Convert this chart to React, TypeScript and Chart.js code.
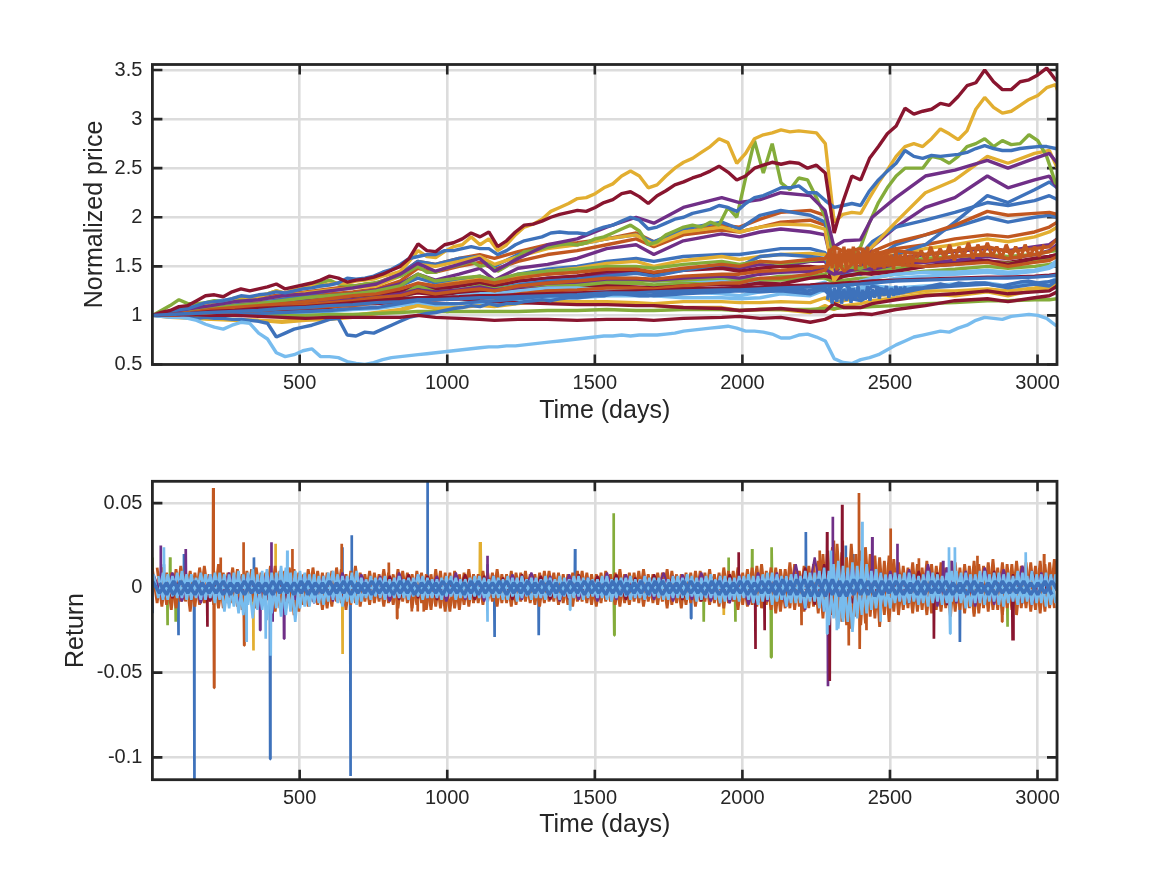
import { useRef, useEffect } from 'react';
import { Chart, registerables } from 'chart.js';
import React from 'react';

Chart.register(...registerables);

const BLUE = '#3e72bb';
const ORANGE = '#c15720';
const YELLOW = '#e2ae30';
const PURPLE = '#702f87';
const GREEN = '#84ac3a';
const LIGHT = '#78bcee';
const RED = '#89152f';
const INK = '#262626';
const GRID = '#dcdcdc';

const FONT = '"Liberation Sans", Helvetica, Arial, sans-serif';

const dayTicks = [500, 1000, 1500, 2000, 2500, 3000];
const priceTicks = [0.5, 1, 1.5, 2, 2.5, 3, 3.5];
const returnTicks = [-0.1, -0.05, 0, 0.05];

const priceDays = [1, 60, 130, 200, 280, 360, 440, 520, 600, 680, 760, 840, 900, 960, 1040, 1110, 1160, 1240, 1340, 1440, 1540, 1640, 1700, 1800, 1930, 1990, 2060, 2130, 2230, 2280, 2310, 2345, 2400, 2440, 2520, 2620, 2720, 2830, 2900, 2990, 3040, 3067];

const orangeA = [1, 1.03, 1.07, 1.12, 1.15, 1.18, 1.21, 1.24, 1.27, 1.3, 1.33, 1.42, 1.55, 1.52, 1.58, 1.62, 1.58, 1.65, 1.72, 1.74, 1.78, 1.84, 1.75, 1.85, 1.92, 1.9, 1.98, 2.05, 2.07, 2.02, 1.6, 1.62, 1.62, 1.65, 1.75, 1.82, 1.92, 2.06, 2.02, 2.04, 2.05, 2.03];
const purpleTop = [1, 1.03, 1.07, 1.1, 1.14, 1.16, 1.2, 1.22, 1.25, 1.28, 1.32, 1.42, 1.53, 1.45, 1.52, 1.58, 1.45, 1.58, 1.72, 1.78, 1.9, 2.0, 1.94, 2.1, 2.2, 2.15, 2.18, 2.25, 2.22, 2.07, 1.7, 1.76, 1.77, 2.0, 2.2, 2.42, 2.48, 2.58, 2.5, 2.6, 2.65, 2.55];
const blueB = [1, 1.02, 1.05, 1.09, 1.13, 1.16, 1.18, 1.21, 1.25, 1.28, 1.32, 1.42, 1.55, 1.52, 1.58, 1.6, 1.5, 1.62, 1.7, 1.72, 1.78, 1.82, 1.75, 1.88, 1.95, 1.88, 2.02, 2.07, 2.02, 1.95, 1.55, 1.58, 1.62, 1.75, 1.9, 1.97, 2.05, 2.15, 2.12, 2.17, 2.22, 2.18];
const orangeB = [1, 1.02, 1.05, 1.08, 1.11, 1.13, 1.16, 1.19, 1.22, 1.24, 1.27, 1.35, 1.48, 1.44, 1.5, 1.54, 1.47, 1.55, 1.62, 1.66, 1.72, 1.78, 1.7, 1.82, 1.87, 1.85, 1.9, 1.95, 1.97, 1.92, 1.55, 1.6, 1.58, 1.62, 1.68, 1.72, 1.78, 1.82, 1.8, 1.85, 1.9, 1.95];
const yellowB = [1, 1.02, 1.06, 1.1, 1.14, 1.16, 1.2, 1.23, 1.26, 1.28, 1.3, 1.4, 1.52, 1.5, 1.55, 1.6, 1.52, 1.6, 1.68, 1.72, 1.78, 1.82, 1.72, 1.85, 1.9, 1.85, 1.9, 1.93, 1.92, 1.88, 1.35, 1.5, 1.6, 1.7, 1.95, 2.25, 2.38, 2.62, 2.55, 2.65, 2.68, 2.5];
const purpleB = [1, 1.02, 1.04, 1.07, 1.1, 1.12, 1.14, 1.17, 1.2, 1.22, 1.26, 1.32, 1.42, 1.36, 1.42, 1.48, 1.36, 1.48, 1.52, 1.58, 1.68, 1.72, 1.62, 1.76, 1.83, 1.8, 1.85, 1.88, 1.85, 1.82, 1.45, 1.48, 1.5, 1.7, 1.9, 2.1, 2.2, 2.42, 2.3, 2.38, 2.42, 2.3];
const greenB = [1, 1.03, 1.05, 1.07, 1.1, 1.12, 1.15, 1.18, 1.2, 1.22, 1.25, 1.3, 1.42, 1.35, 1.38, 1.4, 1.36, 1.42, 1.45, 1.47, 1.5, 1.5, 1.48, 1.52, 1.55, 1.52, 1.55, 1.53, 1.56, 1.58, 1.5, 1.5, 1.48, 1.52, 1.55, 1.58, 1.6, 1.62, 1.6, 1.62, 1.65, 1.66];
const lightB = [1, 1.04, 1.09, 1.14, 1.17, 1.17, 1.12, 1.15, 1.18, 1.12, 1.12, 1.18, 1.25, 1.22, 1.27, 1.3, 1.28, 1.33, 1.36, 1.37, 1.38, 1.38, 1.35, 1.36, 1.35, 1.32, 1.33, 1.3, 1.3, 1.34, 1.22, 1.25, 1.28, 1.32, 1.38, 1.4, 1.42, 1.44, 1.42, 1.45, 1.48, 1.52];
const redB = [1, 1.01, 1.03, 1.05, 1.07, 1.09, 1.11, 1.13, 1.16, 1.18, 1.2, 1.24, 1.28, 1.26, 1.3, 1.33, 1.3, 1.35, 1.38, 1.4, 1.45, 1.46, 1.43, 1.46, 1.48, 1.45, 1.48, 1.5, 1.5, 1.48, 1.36, 1.4, 1.42, 1.44, 1.46, 1.5, 1.52, 1.55, 1.54, 1.58, 1.6, 1.62];
const blueC = [1, 1.01, 1.03, 1.05, 1.08, 1.1, 1.13, 1.15, 1.18, 1.2, 1.24, 1.3, 1.38, 1.33, 1.36, 1.4, 1.34, 1.42, 1.47, 1.5, 1.55, 1.58, 1.55, 1.6, 1.62, 1.62, 1.65, 1.68, 1.68, 1.64, 1.42, 1.46, 1.48, 1.55, 1.72, 1.82, 1.9, 2.0, 1.95, 2.0, 2.02, 2.0];
const orangeC = [1, 1.01, 1.03, 1.06, 1.08, 1.1, 1.12, 1.14, 1.17, 1.2, 1.22, 1.27, 1.33, 1.3, 1.33, 1.36, 1.33, 1.38, 1.42, 1.44, 1.47, 1.47, 1.44, 1.48, 1.52, 1.5, 1.55, 1.54, 1.57, 1.58, 1.7, 1.65, 1.68, 1.6, 1.66, 1.62, 1.66, 1.7, 1.65, 1.68, 1.7, 1.78];
const orangeD = [1, 1, 1.02, 1.03, 1.05, 1.07, 1.09, 1.11, 1.13, 1.15, 1.18, 1.2, 1.25, 1.22, 1.25, 1.27, 1.25, 1.3, 1.33, 1.35, 1.38, 1.38, 1.37, 1.4, 1.42, 1.42, 1.45, 1.46, 1.48, 1.5, 1.55, 1.62, 1.55, 1.52, 1.58, 1.55, 1.6, 1.62, 1.58, 1.62, 1.65, 1.7];
const orangeE = [1, 1.01, 1.02, 1.03, 1.04, 1.05, 1.07, 1.08, 1.09, 1.1, 1.13, 1.15, 1.18, 1.16, 1.18, 1.2, 1.18, 1.22, 1.25, 1.26, 1.28, 1.28, 1.27, 1.3, 1.33, 1.33, 1.38, 1.38, 1.42, 1.46, 1.6, 1.45, 1.6, 1.5, 1.52, 1.5, 1.52, 1.54, 1.5, 1.54, 1.56, 1.6];
const yellowC = [1, 1.01, 1.03, 1.05, 1.07, 1.09, 1.12, 1.14, 1.16, 1.19, 1.22, 1.26, 1.32, 1.3, 1.34, 1.37, 1.33, 1.4, 1.45, 1.48, 1.53, 1.55, 1.5, 1.56, 1.6, 1.57, 1.6, 1.62, 1.63, 1.62, 1.52, 1.55, 1.56, 1.58, 1.62, 1.68, 1.72, 1.78, 1.75, 1.8, 1.85, 1.9];
const yellowD = [1, 0.98, 0.97, 0.96, 0.96, 0.95, 0.94, 0.96, 0.98, 1, 1.03, 1.06, 1.12, 1.1, 1.12, 1.13, 1.12, 1.13, 1.14, 1.14, 1.14, 1.13, 1.12, 1.14, 1.14, 1.13, 1.13, 1.14, 1.13, 1.18, 1.13, 1.15, 1.18, 1.2, 1.22, 1.25, 1.25, 1.27, 1.25, 1.28, 1.3, 1.34];
const purpleC = [1, 1.01, 1.02, 1.04, 1.06, 1.08, 1.1, 1.12, 1.14, 1.17, 1.19, 1.23, 1.3, 1.27, 1.3, 1.32, 1.28, 1.33, 1.38, 1.4, 1.42, 1.45, 1.4, 1.47, 1.5, 1.48, 1.52, 1.5, 1.55, 1.55, 1.42, 1.48, 1.5, 1.52, 1.58, 1.62, 1.65, 1.68, 1.66, 1.7, 1.72, 1.78];
const purpleD = [1, 1.01, 1.03, 1.05, 1.07, 1.09, 1.1, 1.12, 1.14, 1.16, 1.18, 1.22, 1.26, 1.24, 1.26, 1.29, 1.26, 1.29, 1.33, 1.34, 1.37, 1.37, 1.36, 1.38, 1.4, 1.38, 1.42, 1.44, 1.45, 1.47, 1.42, 1.44, 1.48, 1.47, 1.52, 1.54, 1.56, 1.6, 1.58, 1.62, 1.66, 1.72];
const blueD = [1, 1.01, 1.02, 1.03, 1.05, 1.07, 1.09, 1.1, 1.12, 1.14, 1.17, 1.2, 1.26, 1.22, 1.26, 1.28, 1.27, 1.31, 1.35, 1.37, 1.4, 1.43, 1.4, 1.46, 1.52, 1.5, 1.6, 1.62, 1.6, 1.58, 1.38, 1.42, 1.42, 1.5, 1.62, 1.72, 1.95, 2.22, 2.15, 2.28, 2.36, 2.3];
const blueE = [1, 1, 1.01, 1.02, 1.03, 1.02, 1.03, 1.04, 1.05, 1.07, 1.08, 1.12, 1.15, 1.12, 1.12, 1.14, 1.15, 1.17, 1.2, 1.2, 1.22, 1.22, 1.2, 1.22, 1.24, 1.25, 1.24, 1.25, 1.22, 1.28, 1.2, 1.32, 1.18, 1.3, 1.22, 1.28, 1.3, 1.32, 1.28, 1.32, 1.3, 1.36];
const greenC = [1, 1.01, 1.02, 1.04, 1.06, 1.08, 1.09, 1.11, 1.12, 1.14, 1.16, 1.18, 1.24, 1.21, 1.23, 1.25, 1.24, 1.26, 1.28, 1.3, 1.32, 1.33, 1.31, 1.33, 1.35, 1.35, 1.36, 1.36, 1.38, 1.38, 1.34, 1.36, 1.38, 1.38, 1.42, 1.45, 1.47, 1.5, 1.48, 1.5, 1.52, 1.54];
const greenD = [1, 1.02, 1.04, 1.04, 1.06, 1.08, 1.1, 1.12, 1.14, 1.16, 1.18, 1.2, 1.3, 1.24, 1.26, 1.3, 1.27, 1.3, 1.3, 1.33, 1.35, 1.36, 1.35, 1.36, 1.38, 1.38, 1.37, 1.4, 1.4, 1.42, 1.5, 1.48, 1.45, 1.47, 1.48, 1.5, 1.53, 1.55, 1.53, 1.56, 1.58, 1.6];
const redC = [1, 1.01, 1.03, 1.04, 1.05, 1.07, 1.09, 1.1, 1.12, 1.15, 1.16, 1.2, 1.23, 1.21, 1.23, 1.24, 1.22, 1.26, 1.28, 1.27, 1.3, 1.29, 1.28, 1.3, 1.32, 1.3, 1.33, 1.32, 1.38, 1.4, 1.38, 1.4, 1.43, 1.42, 1.45, 1.5, 1.55, 1.56, 1.52, 1.58, 1.6, 1.62];
const lightC = [1, 1, 1.02, 1.03, 1.04, 1.02, 1.02, 1.03, 1.04, 1.06, 1.07, 1.1, 1.13, 1.1, 1.12, 1.13, 1.13, 1.16, 1.18, 1.18, 1.2, 1.2, 1.2, 1.18, 1.18, 1.17, 1.18, 1.22, 1.2, 1.26, 1.2, 1.25, 1.26, 1.3, 1.28, 1.3, 1.32, 1.33, 1.3, 1.33, 1.34, 1.38];
const lightD = [1, 1.01, 1.02, 1.04, 1.06, 1.06, 1.05, 1.07, 1.08, 1.1, 1.12, 1.13, 1.18, 1.16, 1.2, 1.22, 1.22, 1.25, 1.28, 1.28, 1.26, 1.26, 1.25, 1.24, 1.22, 1.2, 1.24, 1.25, 1.24, 1.28, 1.24, 1.26, 1.35, 1.38, 1.42, 1.44, 1.44, 1.46, 1.44, 1.46, 1.5, 1.56];
const redD = [1, 1, 1.01, 1.03, 1.05, 1.03, 1.05, 1.06, 1.08, 1.12, 1.12, 1.14, 1.16, 1.16, 1.17, 1.15, 1.14, 1.13, 1.12, 1.11, 1.11, 1.1, 1.1, 1.08, 1.07, 1.05, 1.06, 1.07, 1.04, 1.04, 1.12, 1.08, 1.08, 1.12, 1.16, 1.2, 1.22, 1.25, 1.22, 1.24, 1.25, 1.3];
const yellowE = [1, 0.99, 0.99, 0.96, 0.95, 0.95, 0.93, 0.95, 0.96, 0.98, 1.02, 1.05, 1.1, 1.07, 1.08, 1.1, 1.09, 1.12, 1.15, 1.13, 1.12, 1.12, 1.1, 1.08, 1.08, 1.05, 1.06, 1.06, 1.03, 1.1, 1.06, 1.1, 1.12, 1.15, 1.18, 1.22, 1.2, 1.24, 1.2, 1.26, 1.27, 1.32];
const greenLow = [1, 1, 1, 1.01, 1.01, 1, 1, 1, 1.01, 1.01, 1.02, 1.03, 1.04, 1.04, 1.04, 1.04, 1.04, 1.04, 1.05, 1.05, 1.06, 1.05, 1.05, 1.06, 1.06, 1.05, 1.06, 1.06, 1.06, 1.07, 1.07, 1.08, 1.08, 1.09, 1.1, 1.12, 1.13, 1.15, 1.15, 1.16, 1.16, 1.17];
const redLow = [1, 1, 1.01, 1, 1, 0.99, 0.98, 0.97, 0.98, 0.98, 0.98, 0.98, 1, 0.98, 0.97, 0.96, 0.95, 0.96, 0.96, 0.95, 0.96, 0.96, 0.95, 0.97, 0.98, 0.99, 0.97, 0.98, 0.93, 0.96, 1, 1, 1.02, 1.01, 1.06, 1.1, 1.15, 1.17, 1.14, 1.18, 1.2, 1.24];
const redLine = [1, 1.01, 1.02, 1.04, 1.05, 1.07, 1.08, 1.09, 1.11, 1.13, 1.15, 1.17, 1.18, 1.18, 1.19, 1.2, 1.2, 1.21, 1.22, 1.23, 1.24, 1.25, 1.25, 1.27, 1.28, 1.28, 1.29, 1.3, 1.31, 1.32, 1.32, 1.33, 1.34, 1.35, 1.36, 1.37, 1.38, 1.39, 1.39, 1.4, 1.41, 1.42];
const blueLine = [1, 1.01, 1.02, 1.03, 1.04, 1.05, 1.07, 1.08, 1.1, 1.11, 1.13, 1.14, 1.16, 1.16, 1.17, 1.18, 1.18, 1.19, 1.2, 1.21, 1.23, 1.23, 1.24, 1.25, 1.26, 1.26, 1.27, 1.28, 1.29, 1.3, 1.3, 1.31, 1.32, 1.33, 1.35, 1.36, 1.37, 1.38, 1.38, 1.39, 1.4, 1.41];

// the series that stand alone are read every 30 days, starting at day 1
const redTop = [
  1, 1.03, 1.05, 1.09, 1.1, 1.15, 1.2, 1.21, 1.19, 1.24, 1.27, 1.25, 1.27, 1.29, 1.32, 1.27, 1.29, 1.31, 1.33, 1.36,
  1.4, 1.38, 1.34, 1.36, 1.37, 1.39, 1.42, 1.46, 1.5, 1.58, 1.73, 1.66, 1.65, 1.72, 1.74, 1.78, 1.84, 1.8, 1.85, 1.7,
  1.76, 1.85, 1.92, 1.93, 1.96, 2.0, 2.03, 2.05, 2.07, 2.06, 2.1, 2.15, 2.18, 2.24, 2.26, 2.21, 2.14, 2.22, 2.27, 2.33,
  2.36, 2.4, 2.43, 2.47, 2.52, 2.46, 2.38, 2.42, 2.5, 2.53, 2.56, 2.54, 2.56, 2.55, 2.5, 2.53, 2.45, 1.84, 2.16, 2.42,
  2.38, 2.6, 2.72, 2.85, 2.93, 3.11, 3.05, 3.08, 3.1, 3.16, 3.14, 3.23, 3.34, 3.37, 3.5, 3.38, 3.3, 3.3, 3.38, 3.4,
  3.45, 3.52, 3.4, 3.35,
];
const yellowTop = [
  1, 1.02, 1.04, 1.06, 1.07, 1.09, 1.12, 1.14, 1.13, 1.17, 1.19, 1.18, 1.19, 1.22, 1.25, 1.23, 1.26, 1.28, 1.3, 1.3,
  1.32, 1.33, 1.33, 1.35, 1.36, 1.37, 1.4, 1.42, 1.45, 1.55, 1.66, 1.6, 1.59, 1.65, 1.7, 1.72, 1.8, 1.72, 1.78, 1.66,
  1.72, 1.82, 1.9, 1.93, 1.98, 2.06, 2.1, 2.14, 2.19, 2.2, 2.24, 2.3, 2.34, 2.42, 2.47, 2.42, 2.3, 2.33, 2.42, 2.5,
  2.56, 2.6, 2.66, 2.72, 2.8, 2.76, 2.55, 2.65, 2.8, 2.84, 2.86, 2.89, 2.87, 2.88, 2.87, 2.86, 2.75, 1.95, 2.03, 2.05,
  2.04, 2.2, 2.35, 2.48, 2.62, 2.72, 2.75, 2.72, 2.8, 2.9, 2.85, 2.79, 2.88, 3.1, 3.22, 3.12, 3.06, 3.08, 3.14, 3.2,
  3.24, 3.32, 3.35, 3.1,
];
const greenTop = [
  1, 1.05, 1.1, 1.16, 1.12, 1.12, 1.13, 1.15, 1.14, 1.16, 1.18, 1.17, 1.2, 1.22, 1.25, 1.22, 1.26, 1.28, 1.3, 1.33,
  1.36, 1.32, 1.31, 1.3, 1.32, 1.33, 1.35, 1.38, 1.4, 1.45, 1.5, 1.44, 1.44, 1.48, 1.5, 1.52, 1.55, 1.5, 1.52, 1.45,
  1.5, 1.58, 1.65, 1.66, 1.68, 1.7, 1.72, 1.73, 1.72, 1.74, 1.78, 1.8, 1.84, 1.88, 1.92, 1.86, 1.72, 1.75, 1.82, 1.86,
  1.9, 1.92, 1.9, 1.95, 1.92, 2.1, 2.0, 2.4, 2.78, 2.45, 2.75, 2.35, 2.28, 2.4, 2.38, 2.2, 2.0, 1.6, 1.6, 1.62,
  1.7, 1.95, 2.15, 2.3, 2.42, 2.5, 2.5, 2.5, 2.62, 2.6, 2.55, 2.62, 2.72, 2.75, 2.8, 2.72, 2.78, 2.74, 2.75, 2.84,
  2.78, 2.62, 2.35, 2.3,
];
const blueTop = [
  1, 1.02, 1.04, 1.06, 1.07, 1.1, 1.13, 1.14, 1.15, 1.17, 1.2, 1.19, 1.21, 1.22, 1.24, 1.23, 1.25, 1.27, 1.28, 1.3,
  1.31, 1.33, 1.38, 1.37, 1.38, 1.4, 1.44, 1.47, 1.52, 1.58, 1.6, 1.62, 1.62, 1.66, 1.66, 1.68, 1.7, 1.68, 1.68, 1.62,
  1.66, 1.72, 1.76, 1.78, 1.8, 1.84, 1.85, 1.84, 1.84, 1.83, 1.87, 1.9, 1.92, 1.96, 2.0, 1.97, 1.88, 1.9, 1.94, 1.98,
  2.0, 2.04, 2.06, 2.08, 2.12, 2.1, 2.06, 2.14, 2.2, 2.22, 2.26, 2.3, 2.3, 2.32, 2.25, 2.25, 2.17, 2.1, 2.12, 2.14,
  2.12, 2.27, 2.38, 2.47, 2.55, 2.68, 2.62, 2.6, 2.63, 2.62, 2.63, 2.64, 2.66, 2.7, 2.73, 2.7, 2.68, 2.68, 2.7, 2.71,
  2.72, 2.72, 2.7, 2.68,
];
const lightLow = [
  1, 0.99, 0.98, 0.98, 0.97, 0.95, 0.91, 0.88, 0.86, 0.9, 0.93, 0.92, 0.82, 0.76, 0.62, 0.58, 0.6, 0.64, 0.66, 0.58,
  0.58, 0.57, 0.53, 0.51, 0.5, 0.52, 0.55, 0.57, 0.58, 0.59, 0.6, 0.61, 0.62, 0.63, 0.64, 0.65, 0.66, 0.67, 0.68, 0.68,
  0.69, 0.69, 0.7, 0.71, 0.72, 0.73, 0.74, 0.75, 0.76, 0.77, 0.78, 0.79, 0.79, 0.8, 0.79, 0.8, 0.8, 0.8, 0.81, 0.82,
  0.84, 0.85, 0.86, 0.87, 0.88, 0.89, 0.87, 0.84, 0.84, 0.83, 0.81, 0.77, 0.77, 0.8, 0.81, 0.78, 0.74, 0.56, 0.52, 0.51,
  0.55, 0.57, 0.6, 0.65, 0.7, 0.74, 0.78, 0.8, 0.82, 0.84, 0.83, 0.87, 0.9, 0.95, 0.98, 0.97, 0.96, 0.99, 1, 1.01,
  1, 0.97, 0.9, 0.87,
];
const blueLow = [
  1, 0.99, 1, 0.99, 0.98, 0.97, 0.98, 0.97, 0.97, 0.96, 0.96, 0.95, 0.94, 0.92, 0.78, 0.82, 0.86, 0.88, 0.9, 0.93,
  0.96, 0.97, 0.8, 0.79, 0.83, 0.82, 0.86, 0.9, 0.94, 0.98, 1, 1.02, 1.03, 1.05, 1.07, 1.08, 1.1, 1.09, 1.12, 1.1,
  1.12, 1.12, 1.14, 1.15, 1.16, 1.15, 1.17, 1.18, 1.18, 1.19, 1.2, 1.2, 1.22, 1.22, 1.21, 1.2, 1.2, 1.22, 1.23, 1.24,
  1.24, 1.25, 1.25, 1.26, 1.25, 1.27, 1.26, 1.26, 1.27, 1.27, 1.26, 1.27, 1.26, 1.26, 1.25, 1.27, 1.25, 1.17, 1.2, 1.17,
  1.15, 1.2, 1.22, 1.22, 1.25, 1.26, 1.28, 1.28, 1.3, 1.32, 1.3, 1.33, 1.32, 1.33, 1.33, 1.31, 1.3, 1.32, 1.34, 1.35,
  1.33, 1.34, 1.36, 1.36,
];

// the turbulent stretch after the 2300 crash, one reading every 8 days from day 2288
const orangeBlob = [1.52, 1.68, 1.48, 1.7, 1.46, 1.66, 1.5, 1.7, 1.47, 1.68, 1.52, 1.7, 1.46, 1.66, 1.5, 1.69, 1.48, 1.7, 1.5, 1.66, 1.47, 1.68, 1.5, 1.64, 1.48, 1.67, 1.5, 1.62, 1.47, 1.66, 1.52, 1.62, 1.5, 1.64, 1.5, 1.62, 1.52, 1.64];
const blueBlob = [1.16, 1.3, 1.12, 1.28, 1.14, 1.32, 1.12, 1.27, 1.15, 1.3, 1.13, 1.28, 1.16, 1.3, 1.14, 1.26, 1.16, 1.3, 1.15, 1.27, 1.18, 1.3, 1.17, 1.28, 1.2, 1.3, 1.18, 1.28, 1.2, 1.3, 1.21, 1.29, 1.22, 1.3];
// and its quieter tail, every 16 days from day 2590
const orangeTail = [1.58, 1.66, 1.55, 1.7, 1.56, 1.68, 1.58, 1.72, 1.56, 1.7, 1.6, 1.74, 1.58, 1.72, 1.6, 1.74, 1.6, 1.7, 1.58, 1.72, 1.6, 1.7, 1.58, 1.72, 1.6, 1.7, 1.6, 1.72];

// big single-day returns, by colour
const blueSpikeDays = [1, 40, 89, 108, 143, 345, 400, 644, 672, 676, 933, 1136, 1160, 1310, 1433, 1826, 2215, 2350, 2375, 2737];
const blueSpikes = [-0.015, 0.014, -0.028, 0.02, -0.12, 0.018, -0.101, 0.024, -0.111, 0.031, 0.066, 0.014, -0.029, -0.028, 0.023, -0.018, 0.033, 0.025, 0.02, -0.032];
const yellowSpikeDays = [343, 418, 645, 1111, 1114, 1937];
const yellowSpikes = [-0.037, 0.026, -0.039, 0.027, 0.027, -0.016];
const greenSpikeDays = [1, 52, 61, 80, 1563, 1566, 1869, 1953, 1976, 2033, 2097, 2100, 2898];
const greenSpikes = [0.018, -0.022, 0.018, -0.02, 0.044, -0.028, -0.02, 0.018, -0.02, 0.023, -0.041, 0.024, -0.023];
const orangeSpikeDays = [207, 210, 232, 309, 312, 475, 642, 802, 830, 880, 900, 920, 2200, 2287, 2262, 2310, 2325, 2340, 2360, 2395, 2398, 2420, 2502, 2598, 2785, 2796, 2880, 3022];
const orangeSpikes = [0.059, -0.059, 0.018, 0.027, -0.034, 0.023, 0.026, 0.015, -0.018, -0.014, -0.014, -0.014, -0.022, 0.02, 0.022, 0.028, -0.02, 0.028, -0.034, 0.056, -0.036, -0.025, 0.035, 0.0175, -0.015, 0.019, -0.02, 0.02];
const purpleSpikeDays = [29, 114, 366, 404, 408, 447, 1136, 2290, 2306, 2440, 2525, 2680, 2710];
const purpleSpikes = [0.025, 0.023, -0.025, 0.027, -0.02, -0.03, 0.019, -0.058, 0.042, 0.03, 0.026, 0.016, 0.016];
const redSpikeDays = [187, 1987, 2044, 2075, 2287, 2296, 2338, 2649, 2915, 2918];
const redSpikes = [-0.023, 0.021, -0.036, -0.025, 0.033, -0.055, 0.049, -0.03, -0.031, -0.031];
const lightSpikeDays = [40, 320, 402, 385, 458, 1136, 1416, 2287, 2300, 2320, 2340, 2406, 2468, 2700, 2704, 2720, 2960];
const lightSpikes = [0.024, -0.032, -0.04, -0.03, 0.022, -0.02, -0.013, -0.027, 0.022, -0.025, -0.018, 0.039, -0.02, 0.024, -0.027, 0.024, 0.021];

// everyday returns in thousandths, one value every few days
const orangeBand = [
  11, -9, 12, -10, 9, -12, 13, -8, 10, -11, 12, -9, 8, -10, 14, -12, 9, -9, 11, -13, 10, -8, 12, -11, 9, -10, 13, -12, 10, -9, 11, -14, 8, -11, 12, -10, 9, -12, 10, -8, 11, -13, 10, -9,
  9, -8, 10, -9, 8, -11, 9, -10, 11, -8, 9, -12, 10, -9, 8, -13, 11, -12, 9, -14, 10, -13, 9, -11, 8, -9, 10, -8, 9, -11, 8, -9, 10, -10, 9, -8, 8, -10, 9, -9, 10, -8,
  9, -9, 8, -11, 10, -8, 9, -10, 8, -9, 10, -8, 9, -11, 8, -10, 9, -9, 11, -8, 8, -10, 9, -12, 10, -9, 8, -10, 9, -11, 10, -8, 11, -9, 9, -12, 10, -8, 12, -10,
  11, -10, 13, -12, 10, -13, 12, -14, 11, -12, 14, -11, 13, -12, 14,
  -15, 20, -18, 24, -19, 21, -22, 26, -17, 22, -21, 20, -18, 18, -16, 19,
  -14, 15, -13, 12, -15, 14, -13, 16, -15, 13, -14, 12, -17, 15, -13, 14, -12, 16, -15, 13, -14, 17, -13, 15, -12, 14, -16, 13, -12, 15, -13, 16, -14, 15, -12,
];
const orangeBandB = [
  12, -11, 9, -13, 11, -8, 10, -14, 9, -10, 13, -8, 10, -12, 9, -9, 12, -11, 8, -10, 11, -12, 9, -8, 13, -14, 10, -9, 12, -16, 9, -10, 11, -8, 10, -13, 9, -11, 12, -9, 8, -10, 13, -11,
  8, -10, 9, -8, 11, -9, 8, -12, 10, -9, 8, -10, 9, -13, 8, -11, 10, -14, 9, -12, 8, -10, 11, -9, 8, -10, 9, -8, 11, -9, 8, -11, 9, -8, 10, -9, 8, -11, 10, -8, 9, -10,
  8, -10, 9, -8, 10, -9, 8, -11, 9, -8, 8, -10, 11, -9, 9, -8, 10, -11, 8, -9, 9, -8, 11, -10, 8, -12, 9, -9, 10, -8, 9, -10, 8, -11, 12, -9, 10, -13, 9, -11,
  12, -11, 14, -10, 12, -15, 11, -12, 15, -13, 10, -14, 13, -11, 16,
  -18, 22, -16, 26, -20, 18, -24, 20, -22, 24, -17, 19, -23, 16, -20, 17,
  -16, 13, -12, 15, -14, 12, -16, 14, -13, 15, -12, 16, -14, 12, -15, 13, -17, 14, -12, 15, -13, 12, -16, 14, -13, 16, -12, 15, -14, 13, -15, 14, -12, 17, -13,
];
const purpleBand = [
  8, -7, 9, -8, 7, -9, 8, -7, 9, -8, 8, -7, 9, -8, 7, -7, 8, -9, 7, -8,
  9, -7, 8, -6, 7, -8, 9, -7, 8, -6, 7, -8, 9, -7, 6, -8, 7, -6, 8, -7,
  9, -6, 7, -8, 8, -7, 6, -8, 9, -7, 8, -6, 7, -7, 9, -8, 8, -7, 9, -8,
  7, -9, 8, -10, 9, -8, 9, -11, 14, -13, 18, -14, 12, -12, 13, -10, 11, -9, 10, -8,
  11, -10, 14, -11, 12, -9, 10, -11, 12, -10, 11, -9, 13, -10, 9, -8,
];
const redBand = [
  7, -6, 8, -7, 6, -8, 7, -6, 8, -7, 6, -7, 8, -6, 7, -7, 6, -8, 7, -6,
  8, -7, 6, -6, 7, -7, 8, -6, 7, -7, 6, -6, 8, -7, 7, -6, 6, -7, 8, -6,
  7, -7, 6, -7, 8, -6, 7, -6, 8, -7, 6, -7, 8, -6, 7, -7, 6, -8, 7, -6,
  8, -7, 7, -9, 8, -7, 7, -8, 12, -10, 14, -12, 11, -9, 10, -9, 9, -8, 8, -9,
  10, -8, 9, -10, 9, -7, 8, -9, 10, -8, 8, -9, 10, -7, 8, -7,
];
const lightBand = [
  8, -6, 9, -7, 7, -6, 10, -7, 8, -6, 9, -7, 8,
  -9, 9, -14, 8, -11, 10, -16, 9, -18, 8, -13, 11, -15, 9, -17, 12, -14, 10, -12,
  9, -11, 8, -9, 7, -8, 10, -9, 7, -8, 9, -10,
  6, -6, 7, -5, 6, -7, 5, -6, 7, -6, 6, -5, 8, -7, 6, -6, 5, -7, 7, -5, 6, -6, 5, -7, 7, -6, 6, -5, 7, -6, 5, -7, 6, -8, 7, -5, 6, -6, 5, -7,
  6, -6, 7, -5, 5, -6, 7, -7, 6, -5, 5, -6, 7, -8, 6, -5, 6, -7, 5, -6, 7, -5, 6, -6, 5, -7, 7, -6, 6, -7, 7, -8, 6, -6, 8, -7, 7, -8, 6, -7, 7, -6,
  8, -9, 7, -8, 9, -10, 8, -7, 7, -9, 8, -9, 10, -8, 9,
  -12, 12, -22, 14, -24, 13, -20, 15, -18, 16, -15,
  10, -12, 9, -11, 8,
  -9, 8, -10, 9, -8, 7, -9, 10, -9, 8, -10, 9, -8, 10, -9, 9, -11, 8, -9, 10, -8, 9, -10, 8, -9, 7, -10, 9, -8, 10, -9, 8, -11, 8, -9,
];
const lightBandB = [
  7, -7, 8, -5, 9, -6, 8, -7, 6, -7, 8, -6, 9,
  -7, 8, -12, 9, -15, 8, -10, 11, -13, 10, -19, 9, -12, 13, -16, 9, -20, 10, -11,
  8, -9, 7, -10, 9, -7, 8, -11, 7, -9, 10, -8,
  5, -7, 6, -6, 7, -5, 6, -6, 5, -7, 6, -5, 7, -6, 5, -6, 6, -5, 7, -7, 5, -6, 6, -5, 7, -6, 5, -6, 6, -7, 7, -5, 6, -6, 5, -7, 6, -6, 7, -5,
  5, -7, 6, -6, 7, -5, 6, -6, 5, -6, 7, -7, 5, -6, 6, -5, 7, -6, 5, -7, 6, -5, 6, -7, 5, -6, 7, -6, 8, -5, 6, -7, 7, -6, 5, -9, 7, -7, 6, -8, 7, -7,
  7, -10, 8, -7, 9, -8, 7, -11, 8, -9, 7, -12, 9, -8, 10,
  -14, 10, -18, 16, -20, 12, -26, 13, -16, 14, -13,
  11, -10, 8, -12, 9,
  -8, 9, -9, 8, -10, 8, -11, 9, -8, 7, -9, 10, -8, 9, -12, 8, -9, 10, -10, 8, -8, 9, -11, 9, -8, 10, -9, 7, -10, 8, -9, 9, -10, 8, -8,
];
const blueBand = [
  4, -3, 3, -4, 4, -3, 4, -4, 3, -3, 4, -4, 3, -4, 4, -3,
  3, -4, 4, -3, 3, -3, 4, -4, 3, -4, 3, -3, 4, -3, 3, -4,
  4, -3, 3, -3, 4, -4, 3, -3, 3, -4, 4, -3, 3, -3, 4, -3,
  3, -3, 4, -3, 3, -4, 3, -3, 4, -3, 3, -3, 3, -4, 4, -3,
  3, -3, 4, -4, 3, -3, 3, -3, 4, -3, 3, -4, 4, -3, 3, -3,
  4, -4, 3, -3, 4, -4, 4, -3, 4, -4, 4, -4, 5, -5, 5, -5,
  5, -5, 4, -4, 5, -4, 4, -4, 4, -4, 4, -3, 4, -4, 4, -3,
  4, -4, 3, -4, 4, -3, 3, -4, 4, -3, 4, -3, 3, -4, 4, -4,
];
const blueBandB = [
  3, -4, 4, -4, 3, -4, 3, -3, 4, -4, 3, -3, 4, -3, 3, -4,
  4, -3, 3, -4, 4, -4, 3, -3, 4, -3, 4, -4, 3, -3, 4, -3,
  3, -4, 4, -3, 3, -3, 4, -3, 4, -3, 3, -4, 4, -4, 3, -3,
  4, -4, 3, -3, 4, -3, 4, -4, 3, -4, 4, -3, 4, -3, 3, -4,
  4, -4, 3, -3, 4, -4, 4, -4, 3, -3, 4, -3, 3, -4, 4, -4,
  3, -3, 4, -4, 3, -3, 4, -4, 5, -4, 5, -5, 4, -5, 5, -4,
  4, -5, 5, -4, 4, -5, 4, -3, 4, -4, 3, -4, 4, -3, 4, -4,
  3, -3, 4, -4, 3, -4, 4, -3, 3, -3, 4, -4, 3, -3, 4, -3,
];

type XY = { x: number; y: number };

function pricePoints(values: number[]) {
  return values.map((y, i) => ({ x: priceDays[i], y }));
}

function stepPoints(values: number[], start: number, step: number) {
  return values.map((y, i) => ({ x: start + i * step, y }));
}

function monthlyPoints(values: number[]) {
  return stepPoints(values, 1, 30);
}

// a spike starts and ends on the zero line
function spikePoints(days: number[], values: number[]) {
  return days.flatMap((d, i) => [{ x: d - 1, y: 0 }, { x: d, y: values[i] }, { x: d + 1, y: 0 }]);
}

function bandPoints(values: number[], start: number, step: number) {
  return values.map((v, i) => ({ x: start + i * step, y: v / 1000 }));
}

// first in the list is painted first
const priceSeries: [XY[], string][] = [
  [pricePoints(blueC), BLUE], [pricePoints(orangeB), ORANGE], [pricePoints(yellowC), YELLOW], [pricePoints(purpleC), PURPLE], [pricePoints(greenC), GREEN], [pricePoints(lightB), LIGHT], [pricePoints(redB), RED],
  [pricePoints(blueD), BLUE], [pricePoints(orangeA), ORANGE], [pricePoints(yellowD), YELLOW], [pricePoints(purpleB), PURPLE], [pricePoints(greenD), GREEN], [pricePoints(lightC), LIGHT], [pricePoints(redC), RED],
  [pricePoints(blueB), BLUE], [pricePoints(yellowB), YELLOW], [pricePoints(purpleD), PURPLE], [pricePoints(greenB), GREEN], [pricePoints(lightD), LIGHT], [pricePoints(yellowE), YELLOW], [pricePoints(greenLow), GREEN], [pricePoints(redD), RED],
  [monthlyPoints(greenTop), GREEN], [monthlyPoints(yellowTop), YELLOW], [pricePoints(purpleTop), PURPLE], [pricePoints(blueE), BLUE], [monthlyPoints(blueLow), BLUE], [monthlyPoints(lightLow), LIGHT], [pricePoints(redLow), RED],
  [pricePoints(orangeC), ORANGE], [pricePoints(orangeD), ORANGE], [pricePoints(orangeE), ORANGE], [stepPoints(orangeBlob, 2288, 8), ORANGE], [stepPoints(orangeTail, 2590, 16), ORANGE], [stepPoints(blueBlob, 2288, 8), BLUE],
  [monthlyPoints(blueTop), BLUE], [monthlyPoints(redTop), RED], [pricePoints(redLine), RED], [pricePoints(blueLine), BLUE],
];

const returnSeries: [XY[], string, number][] = [
  [spikePoints(blueSpikeDays, blueSpikes), BLUE, 2.7],
  [spikePoints(yellowSpikeDays, yellowSpikes), YELLOW, 2.7],
  [spikePoints(greenSpikeDays, greenSpikes), GREEN, 2.7],
  [bandPoints(orangeBand, 1, 16), ORANGE, 2.8],
  [bandPoints(orangeBandB, 17, 16), ORANGE, 2.8],
  [spikePoints(orangeSpikeDays, orangeSpikes), ORANGE, 2.7],
  [bandPoints(purpleBand, 5, 32), PURPLE, 2.2],
  [spikePoints(purpleSpikeDays, purpleSpikes), PURPLE, 2.7],
  [bandPoints(redBand, 37, 32), RED, 2.2],
  [spikePoints(redSpikeDays, redSpikes), RED, 2.7],
  [bandPoints(lightBand, 5, 16), LIGHT, 2.6],
  [bandPoints(lightBandB, 21, 16), LIGHT, 2.6],
  [spikePoints(lightSpikeDays, lightSpikes), LIGHT, 2.7],
  [bandPoints(blueBand, 1, 24), BLUE, 3.6],
  [bandPoints(blueBandB, 25, 24), BLUE, 3.6],
];

const framePlugin = {
  id: 'frame',
  beforeDatasetsDraw(chart: any) {
    const { ctx, chartArea: a, scales } = chart;
    const len = 10;
    ctx.save();
    ctx.strokeStyle = INK;
    ctx.lineWidth = 2.6;
    ctx.beginPath();
    scales.x.ticks.forEach((t: any) => {
      const x = scales.x.getPixelForValue(t.value);
      ctx.moveTo(x, a.bottom);
      ctx.lineTo(x, a.bottom - len);
      ctx.moveTo(x, a.top);
      ctx.lineTo(x, a.top + len);
    });
    scales.y.ticks.forEach((t: any) => {
      const y = scales.y.getPixelForValue(t.value);
      ctx.moveTo(a.left, y);
      ctx.lineTo(a.left + len, y);
      ctx.moveTo(a.right, y);
      ctx.lineTo(a.right - len, y);
    });
    ctx.stroke();
    ctx.restore();
  },
  afterDatasetsDraw(chart: any) {
    const { ctx, chartArea: a } = chart;
    ctx.save();
    ctx.strokeStyle = INK;
    ctx.lineWidth = 2.8;
    ctx.strokeRect(a.left, a.top, a.right - a.left, a.bottom - a.top);
    ctx.restore();
  },
};

type PanelProps = {
  top: number;
  height: number;
  plotTop: number;
  plotBottom: number;
  yMin: number;
  yMax: number;
  yTicks: number[];
  yTitle: string;
  yTitleGap: number;
  xTitleGap: number;
  datasets: any[];
};

function Panel({ top, height, plotTop, plotBottom, yMin, yMax, yTicks, yTitle, yTitleGap, xTitleGap, datasets }: PanelProps) {
  const canvasRef = useRef<HTMLCanvasElement>(null);

  useEffect(() => {
    const canvas = canvasRef.current;
    if (canvas) {
      const chart = new Chart(canvas, {
        type: 'line',
        data: { datasets },
        plugins: [framePlugin],
        options: {
          animation: false,
          responsive: false,
          parsing: false,
          layout: { padding: { top: plotTop, right: 109, left: 0, bottom: 0 } },
          elements: { point: { radius: 0 }, line: { tension: 0, borderJoinStyle: 'bevel', borderCapStyle: 'butt' } },
          plugins: { legend: { display: false }, tooltip: { enabled: false } },
          scales: {
            x: {
              type: 'linear',
              min: 1,
              max: 3066,
              afterBuildTicks: (s: any) => { s.ticks = dayTicks.map((value) => ({ value })); },
              afterFit: (s: any) => { s.height = height - plotBottom; },
              grid: { color: GRID, lineWidth: 2.6, drawTicks: false },
              border: { display: false },
              ticks: { autoSkip: false, maxRotation: 0, padding: 7, color: INK, font: { family: FONT, size: 20 }, callback: (v: any) => String(v) },
              title: { display: true, text: 'Time (days)', color: INK, font: { family: FONT, size: 25 }, padding: { top: 0, bottom: xTitleGap } },
            },
            y: {
              type: 'linear',
              min: yMin,
              max: yMax,
              afterBuildTicks: (s: any) => { s.ticks = yTicks.map((value) => ({ value })); },
              afterFit: (s: any) => { s.width = 152.4; },
              grid: { color: GRID, lineWidth: 2.6, drawTicks: false },
              border: { display: false },
              ticks: { autoSkip: false, padding: 10, color: INK, font: { family: FONT, size: 20 }, callback: (v: any) => String(v) },
              title: { display: true, text: yTitle, color: INK, font: { family: FONT, size: 25 }, padding: { top: yTitleGap, bottom: 0 } },
            },
          },
        },
      });
      return () => {
        chart.destroy();
      };
    }
  }, []);

  return (
    <canvas ref={canvasRef} width={1166} height={height} style={{ position: 'absolute', left: 0, top, display: 'block' }} />
  );
}

const priceDatasets = priceSeries.map(([points, color], i) => ({
  data: points,
  borderColor: color,
  borderWidth: 3.4,
  order: priceSeries.length - i,
}));
const returnDatasets = returnSeries.map(([points, color, width], i) => ({
  data: points,
  borderColor: color,
  borderWidth: width,
  order: returnSeries.length - i,
}));

export default function App() {
  return (
    <div style={{ position: 'absolute', left: 0, top: 0, width: 1166, height: 875, background: '#fff' }}>
      <Panel top={0} height={440} plotTop={64.5} plotBottom={364.5} yMin={0.5} yMax={3.556} yTicks={priceTicks}
        yTitle="Normalized price" yTitleGap={80} xTitleGap={14} datasets={priceDatasets} />
      <Panel top={440} height={435} plotTop={41.3} plotBottom={339.7} yMin={-0.1132} yMax={0.0629} yTicks={returnTicks}
        yTitle="Return" yTitleGap={61} xTitleGap={35} datasets={returnDatasets} />
    </div>
  );
}
